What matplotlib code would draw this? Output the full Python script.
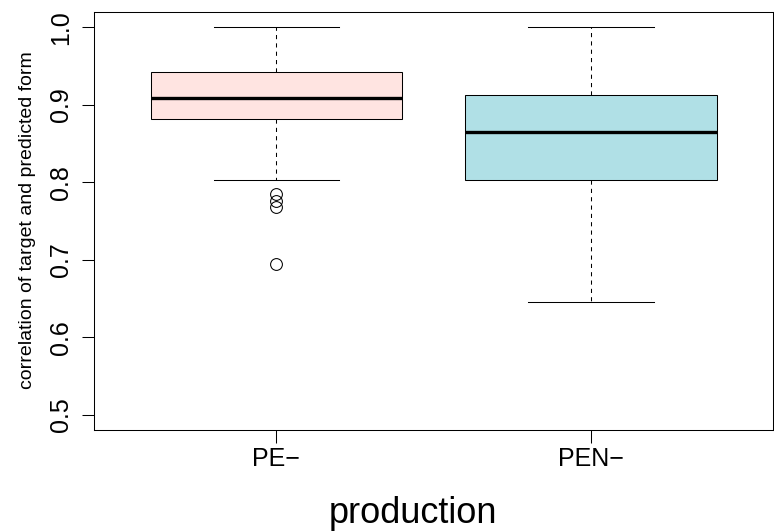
import matplotlib
matplotlib.use("Agg")
import matplotlib.pyplot as plt

plt.rcParams['font.family'] = ['Liberation Sans', 'DejaVu Sans']

# data
categories = ["PE\u2212", "PEN\u2212"]
whisker_low = [0.8036, 0.6455]
q1 = [0.8819, 0.8027]
medians = [0.9096, 0.8656]
q3 = [0.9419, 0.9129]
whisker_high = [1.0, 1.0]
outliers = [[0.7846, 0.7756, 0.7678, 0.6942], []]
fill_colors = ["#FFE4E1", "#B0E0E6"]
yticks = [0.5, 0.6, 0.7, 0.8, 0.9, 1.0]

stats = []
for i, name in enumerate(categories):
    stats.append(dict(label=name, whislo=whisker_low[i], q1=q1[i], med=medians[i],
                      q3=q3[i], whishi=whisker_high[i], fliers=outliers[i]))

fig = plt.figure(figsize=(7.74, 5.31), dpi=100)
ax = fig.add_axes([94/774, 1 - 430.3/531, (773.3 - 94)/774, (430.3 - 12)/531])

bp = ax.bxp(stats, positions=[1, 2], widths=0.8, capwidths=0.4, patch_artist=True,
            boxprops=dict(edgecolor='black', linewidth=0.75),
            medianprops=dict(color='black', linewidth=2.4, solid_capstyle='butt'),
            whiskerprops=dict(color='black', linewidth=0.75, linestyle=(0, (4, 4))),
            capprops=dict(color='black', linewidth=0.75),
            flierprops=dict(marker='o', markerfacecolor='none', markeredgecolor='black',
                            markersize=8.5, markeredgewidth=0.75, linestyle='none'))
for patch, c in zip(bp['boxes'], fill_colors):
    patch.set_facecolor(c)

ax.set_xlim(0.42, 2.58)
ax.set_ylim(0.48, 1.02)
ax.set_yticks(yticks)
ax.set_yticklabels([f"{v:.1f}" for v in yticks], rotation=90, va='center')
ax.set_xticks([1, 2])
ax.set_xticklabels(categories)
ax.tick_params(axis='y', length=9, width=0.75, pad=6, labelsize=18)
ax.tick_params(axis='x', length=9, width=0.75, pad=3, labelsize=18)
for s in ax.spines.values():
    s.set_linewidth(0.75)

fig.text(412.5/774, 1 - 523/531, "production", fontsize=26, ha='center', va='baseline')
fig.text(32/774, 1 - 220/531, "correlation of target and predicted form", fontsize=14,
         rotation=90, rotation_mode='anchor', ha='center', va='baseline')

fig.savefig("out.png", dpi=100)
